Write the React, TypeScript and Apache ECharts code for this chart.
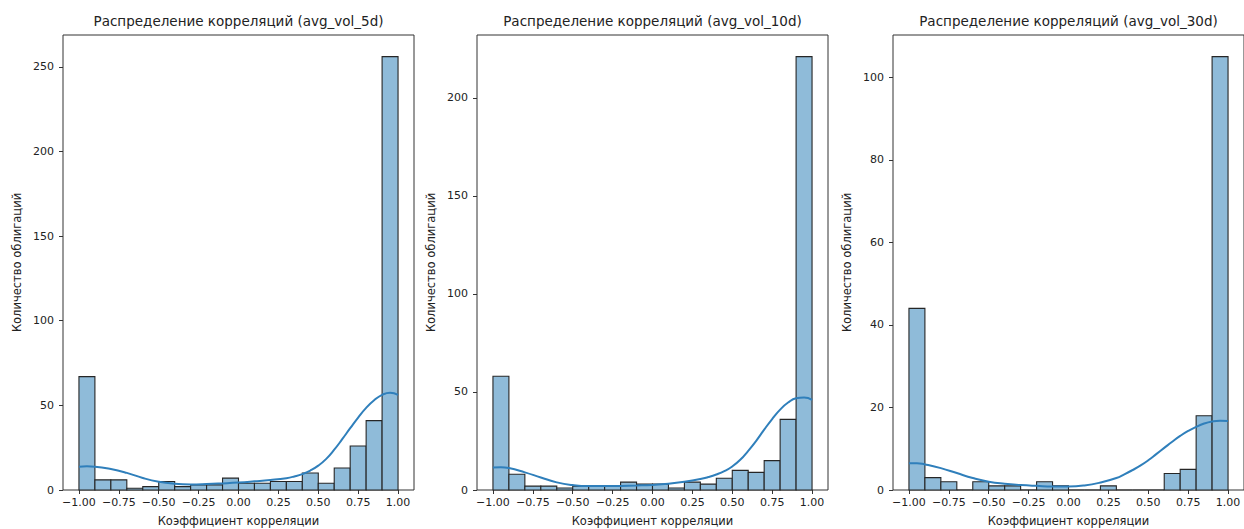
import React, { useEffect, useRef } from "react";
import * as echarts from "echarts";

// Histogram: 20 bins of width 0.1 from -1 to 1
const BIN_START = -1;
const BIN_WIDTH = 0.1;
const counts5d = [67, 6, 6, 1, 2, 5, 2, 3, 3, 7, 4, 4, 5, 5, 10, 4, 13, 26, 41, 256];
const counts10d = [58, 8, 2, 2, 1, 2, 2, 2, 4, 3, 3, 1, 4, 3, 6, 10, 9, 15, 36, 221];
const counts30d = [44, 3, 2, 0, 2, 1, 1, 0, 2, 1, 0, 0, 1, 0, 0, 0, 4, 5, 18, 105];

// KDE curves
const kdeX = [-1, -0.95, -0.9, -0.8, -0.7, -0.6, -0.5, -0.4, -0.3, -0.2, -0.1, 0, 0.1, 0.2, 0.3, 0.35, 0.4, 0.45, 0.5, 0.55, 0.6, 0.65, 0.7, 0.75, 0.8, 0.85, 0.9, 0.95, 1.0];
const kde5d = [13.8, 14.0, 13.8, 12.4, 10.1, 7.1, 4.9, 3.7, 3.3, 3.5, 3.9, 4.4, 5.1, 5.9, 7.0, 8.0, 9.4, 11.5, 14.4, 18.4, 23.8, 30.0, 36.5, 42.8, 48.5, 53.0, 56.2, 57.5, 56.2];
const kde10d = [11.5, 11.6, 11.2, 9.0, 6.4, 3.9, 2.5, 2.0, 2.0, 2.1, 2.3, 2.6, 3.2, 4.2, 5.6, 6.6, 7.9, 9.6, 12.0, 15.4, 20.0, 25.1, 30.8, 36.2, 41.0, 44.6, 46.8, 47.2, 46.0];
const kde30d = [6.5, 6.5, 6.2, 5.3, 4.1, 2.9, 2.0, 1.5, 1.2, 1.0, 0.85, 0.85, 1.1, 1.8, 2.9, 3.8, 4.8, 5.9, 7.2, 8.7, 10.2, 11.7, 13.1, 14.3, 15.3, 16.1, 16.6, 16.8, 16.7];

const titles = [
  "Распределение корреляций (avg_vol_5d)",
  "Распределение корреляций (avg_vol_10d)",
  "Распределение корреляций (avg_vol_30d)",
];
const xTicks = [-1, -0.75, -0.5, -0.25, 0, 0.25, 0.5, 0.75, 1];
const yTicks5d = [0, 50, 100, 150, 200, 250];
const yTicks10d = [0, 50, 100, 150, 200];
const yTicks30d = [0, 20, 40, 60, 80, 100];
const xLabel = "Коэффициент корреляции";
const yLabel = "Количество облигаций";

const FONT = "DejaVu Sans";
const TEXT = "#222";
const BAR_FILL = "#8fbbd9";
const BAR_EDGE = "#262626";
const LINE = "#2f7fbb";

const gridLefts = [63, 477, 893];
const GRID_W = 351;

export default function App() {
  const ref = useRef<HTMLDivElement>(null);
  useEffect(() => {
    if (!ref.current) return;
    const chart = echarts.init(ref.current, null, { renderer: "svg" });
    const panels = [
      { counts: counts5d, kde: kde5d, yTicks: yTicks5d },
      { counts: counts10d, kde: kde10d, yTicks: yTicks10d },
      { counts: counts30d, kde: kde30d, yTicks: yTicks30d },
    ];
    const fmtX = (v: number) => {
      const s = Math.abs(v).toFixed(2);
      return v < -1e-9 ? "\u2212" + s : s;
    };
    const option: any = {
      animation: false,
      backgroundColor: "#fff",
      textStyle: { fontFamily: FONT },
      title: titles.map((t, i) => ({
        text: t,
        left: gridLefts[i] + GRID_W / 2,
        top: 14,
        textAlign: "center",
        padding: 0,
        textStyle: { fontFamily: FONT, fontSize: 13.5, fontWeight: "normal", color: TEXT },
      })),
      grid: gridLefts.map((l) => ({
        left: l,
        top: 35,
        width: GRID_W,
        height: 455,
        show: true,
        borderColor: "#333",
        borderWidth: 1,
        backgroundColor: "transparent",
        containLabel: false,
        outerBoundsMode: "none",
      })),
      xAxis: panels.map((_, i) => ({
        type: "value",
        gridIndex: i,
        min: -1.1,
        max: 1.1,
        name: xLabel,
        nameLocation: "middle",
        nameGap: 25,
        nameTextStyle: { fontFamily: FONT, fontSize: 11.5, color: TEXT },
        axisLine: { show: false, onZero: false },
        splitLine: { show: false },
        axisTick: { show: true, length: 4, lineStyle: { color: "#333" }, customValues: xTicks },
        axisLabel: {
          customValues: xTicks,
          formatter: fmtX,
          fontFamily: FONT,
          fontSize: 11,
          color: TEXT,
          margin: 7,
        },
      })),
      yAxis: panels.map((p, i) => {
        const mx = Math.max(...p.counts) * 1.05;
        return {
          type: "value",
          gridIndex: i,
          min: 0,
          max: mx,
          name: yLabel,
          nameLocation: "middle",
          nameGap: 40,
          nameTextStyle: { fontFamily: FONT, fontSize: 11.5, color: TEXT },
          axisLine: { show: false, onZero: false },
          splitLine: { show: false },
          axisTick: { show: true, length: 4, lineStyle: { color: "#333" }, customValues: p.yTicks },
          axisLabel: {
            customValues: p.yTicks,
            fontFamily: FONT,
            fontSize: 11,
            color: TEXT,
            margin: 9,
          },
        };
      }),
      series: [
        ...panels.map((p, i) => ({
          type: "custom",
          xAxisIndex: i,
          yAxisIndex: i,
          encode: { x: [0, 1], y: 2 },
          data: p.counts.map((c, k) => [
            +(BIN_START + k * BIN_WIDTH).toFixed(2),
            +(BIN_START + (k + 1) * BIN_WIDTH).toFixed(2),
            c,
          ]),
          renderItem: (params: any, api: any) => {
            const p0 = api.coord([api.value(0), api.value(2)]);
            const p1 = api.coord([api.value(1), 0]);
            return {
              type: "rect",
              shape: { x: p0[0], y: p0[1], width: p1[0] - p0[0], height: p1[1] - p0[1] },
              style: { fill: BAR_FILL, stroke: BAR_EDGE, lineWidth: 1.1 },
            };
          },
          z: 2,
        })),
        ...panels.map((p, i) => ({
          type: "line",
          xAxisIndex: i,
          yAxisIndex: i,
          data: kdeX.map((x, k) => [x, p.kde[k]]),
          smooth: 0.5,
          showSymbol: false,
          symbol: "none",
          lineStyle: { color: LINE, width: 2 },
          z: 3,
        })),
      ],
    };
    chart.setOption(option);
    return () => chart.dispose();
  }, []);
  return (
    <div
      ref={ref}
      style={{ position: "absolute", left: 0, top: 0, width: 1244, height: 529 }}
    />
  );
}
